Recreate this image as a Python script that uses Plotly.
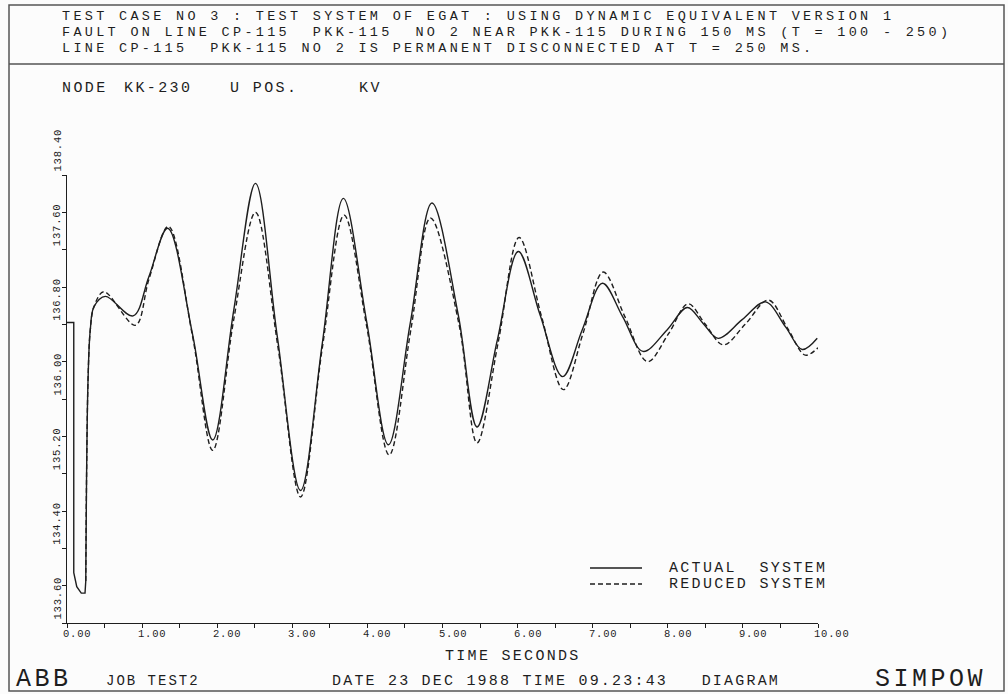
import plotly.graph_objects as go

# ---------------------------------------------------------------- data
# Node KK-230 positive-sequence voltage [kV] versus time [s]

# common part: pre-fault and fault (T = 100 - 250 ms)
FAULT_T = [0.00, 0.09, 0.09, 0.13, 0.19, 0.24, 0.25]
FAULT_V = [136.82, 136.82, 134.14, 133.99, 133.92, 133.92, 134.05]

# recovery right after clearing (both systems)
RECOVERY_T = [0.26, 0.28, 0.31, 0.36]
RECOVERY_V = [135.13, 136.20, 136.74, 136.99]

# post-fault swings, actual system
ACTUAL_T = [0.51, 0.88, 1.09, 1.34, 1.67, 1.94, 2.22, 2.51, 2.80, 3.11, 3.40, 3.68,
            3.99, 4.28, 4.57, 4.86, 5.21, 5.46, 5.73, 6.01, 6.30, 6.60, 6.86, 7.13,
            7.40, 7.67, 7.99, 8.26, 8.47, 8.67, 8.99, 9.30, 9.57, 9.79, 9.99]
ACTUAL_V = [137.10, 136.89, 137.31, 137.83, 136.70, 135.56, 136.95, 138.31, 136.67,
            135.02, 136.60, 138.15, 136.83, 135.51, 136.81, 138.10, 136.90, 135.70,
            136.63, 137.58, 136.90, 136.24, 136.74, 137.24, 136.88, 136.51, 136.74,
            136.98, 136.81, 136.65, 136.85, 137.04, 136.77, 136.53, 136.65]

# post-fault swings, reduced system (dynamic equivalent)
REDUCED_T = [0.49, 0.91, 1.09, 1.35, 1.67, 1.94, 2.22, 2.51, 2.81, 3.11, 3.40, 3.69,
             3.99, 4.29, 4.58, 4.84, 5.22, 5.46, 5.74, 6.02, 6.32, 6.61, 6.87, 7.14,
             7.43, 7.73, 8.01, 8.27, 8.50, 8.74, 9.03, 9.34, 9.60, 9.83, 10.00]
REDUCED_V = [137.15, 136.79, 137.28, 137.85, 136.68, 135.45, 136.85, 138.00, 136.55,
             134.95, 136.55, 137.97, 136.78, 135.40, 136.75, 137.94, 136.80, 135.53,
             136.60, 137.73, 136.88, 136.10, 136.70, 137.36, 136.88, 136.40, 136.70,
             137.02, 136.80, 136.58, 136.80, 137.06, 136.75, 136.47, 136.55]

# axes
X_RANGE = [0, 10]
Y_RANGE = [133.6, 138.4]
X_TICKS = [0, 0.5, 1, 1.5, 2, 2.5, 3, 3.5, 4, 4.5, 5, 5.5, 6, 6.5, 7, 7.5, 8, 8.5, 9, 9.5, 10]
Y_TICKS = [133.6, 134.0, 134.4, 134.8, 135.2, 135.6, 136.0, 136.4, 136.8, 137.2, 137.6, 138.0, 138.4]
X_LABEL_VALUES = [0, 1, 2, 3, 4, 5, 6, 7, 8, 9, 10]
X_LABEL_TEXT = ["0.00", "1.00", "2.00", "3.00", "4.00", "5.00", "6.00", "7.00", "8.00", "9.00", "10.00"]
Y_LABEL_VALUES = [133.6, 134.4, 135.2, 136.0, 136.8, 137.6, 138.4]
Y_LABEL_TEXT = ["133.60", "134.40", "135.20", "136.00", "136.80", "137.60", "138.40"]

HEADER_LINES = [
    "TEST CASE NO 3 : TEST SYSTEM OF EGAT : USING DYNAMIC EQUIVALENT VERSION 1",
    "FAULT ON LINE CP-115  PKK-115  NO 2 NEAR PKK-115 DURING 150 MS (T = 100 - 250)",
    "LINE CP-115  PKK-115 NO 2 IS PERMANENT DISCONNECTED AT T = 250 MS.",
]
QUANTITY_LABEL = ["NODE", "KK-230", "U POS.", "KV"]
SERIES_NAMES = ["ACTUAL  SYSTEM", "REDUCED SYSTEM"]

# ---------------------------------------------------------------- layout geometry
W, H = 1008, 694
X0, X1 = 67, 818          # plot area, pixels
Y_TOP, Y_BOT = 175, 623
INK = "#1e1e1e"
FONT = "Liberation Mono"


def px(x):
    return (x - X0) / (X1 - X0)


def py(y):
    return (Y_BOT - y) / (Y_BOT - Y_TOP)


def plotter(text, spacing):
    """Wide-spaced plotter style text."""
    text = text.replace(" ", "\u00a0")
    return f'<span style="letter-spacing:{spacing}px">{text}</span>'


def label(x, y, text, size=15, spacing=2.4, **kw):
    return dict(x=px(x), xref="paper", y=py(y), yref="paper", xanchor="left",
                yanchor="middle", showarrow=False, text=plotter(text, spacing),
                font=dict(family=FONT, size=size, color=INK), **kw)


fig = go.Figure()

line_solid = dict(color=INK, width=1.4)
line_dash = dict(color=INK, width=1.4, dash="5px,3px")

# fault period (shared by both systems)
fig.add_trace(go.Scatter(x=FAULT_T, y=FAULT_V, mode="lines", line=line_solid,
                         showlegend=False, hoverinfo="skip"))
# reduced system: recovery and swings
fig.add_trace(go.Scatter(x=[FAULT_T[-1]] + RECOVERY_T + REDUCED_T,
                         y=[FAULT_V[-1]] + RECOVERY_V + REDUCED_V,
                         mode="lines", line=dict(line_dash, shape="spline", smoothing=1.0),
                         showlegend=False, name=SERIES_NAMES[1]))
# actual system: recovery and swings
fig.add_trace(go.Scatter(x=[FAULT_T[-1]] + RECOVERY_T + ACTUAL_T,
                         y=[FAULT_V[-1]] + RECOVERY_V + ACTUAL_V,
                         mode="lines", line=dict(line_solid, shape="spline", smoothing=1.0),
                         showlegend=False, name=SERIES_NAMES[0]))

annotations = []
shapes = []

# tick labels
for v, txt in zip(X_LABEL_VALUES, X_LABEL_TEXT):
    annotations.append(dict(x=v, xref="x", y=py(634), yref="paper", xanchor="left",
                            yanchor="middle", xshift=-6, showarrow=False,
                            text=plotter(txt, 0.8),
                            font=dict(family=FONT, size=10.5, color=INK)))
for v, txt in zip(Y_LABEL_VALUES, Y_LABEL_TEXT):
    annotations.append(dict(x=px(57), xref="paper", y=v, yref="y", xanchor="center",
                            yanchor="bottom", yshift=1, textangle=-90, showarrow=False,
                            text=plotter(txt, 0.8),
                            font=dict(family=FONT, size=10.5, color=INK)))

# header block
for i, line in enumerate(HEADER_LINES):
    annotations.append(label(60, 16 + 16 * i, line, size=13.5, spacing=3.3))

# quantity label
for x, txt in zip([60, 122, 228, 357], QUANTITY_LABEL):
    annotations.append(label(x, 89, txt))

# legend
for i, name in enumerate(SERIES_NAMES):
    yy = 568 + 16 * i
    shapes.append(dict(type="line", xref="paper", yref="paper",
                       x0=px(590), x1=px(642), y0=py(yy), y1=py(yy),
                       line=line_solid if i == 0 else line_dash))
    annotations.append(label(667, yy, name, spacing=2.3))

# axis title and footer
annotations.append(label(443, 656, "TIME SECONDS", spacing=2.3))
annotations.append(label(14, 679, "ABB", size=25, spacing=3.5))
annotations.append(label(104, 681, "JOB TEST2", size=14, spacing=2.0))
annotations.append(label(330, 681, "DATE 23 DEC 1988 TIME 09.23:43   DIAGRAM", spacing=2.2))
annotations.append(label(873, 679, "SIMPOW", size=25, spacing=3.5))

# page frame and header separator
frame = dict(color="#555555", width=1.5)
shapes.append(dict(type="rect", xref="paper", yref="paper",
                   x0=px(9), x1=px(1004), y0=py(691), y1=py(5), line=frame))
shapes.append(dict(type="line", xref="paper", yref="paper",
                   x0=px(9), x1=px(1004), y0=py(64), y1=py(64), line=frame))

axis_common = dict(showgrid=False, zeroline=False, showline=True, linecolor=INK,
                   linewidth=1.2, ticks="outside", ticklen=4, tickwidth=1.1,
                   tickcolor=INK, showticklabels=False, tickmode="array")

fig.update_layout(
    width=W, height=H,
    margin=dict(l=X0, r=W - X1, t=Y_TOP, b=H - Y_BOT, pad=0),
    paper_bgcolor="#fcfcfc", plot_bgcolor="#fcfcfc",
    xaxis=dict(axis_common, range=X_RANGE, tickvals=X_TICKS),
    yaxis=dict(axis_common, range=Y_RANGE, tickvals=Y_TICKS),
    annotations=annotations, shapes=shapes,
    showlegend=False,
)

fig.write_html("out.html")
